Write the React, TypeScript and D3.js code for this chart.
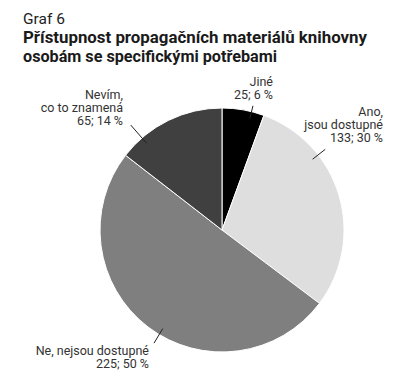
import React from "react";
import * as d3 from "d3";

// data
const categories = ["Jiné", "Ano, jsou dostupné", "Ne, nejsou dostupné", "Nevím, co to znamená"];
const counts = [25, 133, 225, 65];
const percents = [6, 30, 50, 14];
const sliceColors = ["#000000", "#dedede", "#7f7f7f", "#404040"];
const labelLines = [["Jiné"], ["Ano,", "jsou dostupné"], ["Ne, nejsou dostupné"], ["Nevím,", "co to znamená"]];

const subtitle = "Graf 6";
const titleLines = ["Přístupnost propagačních materiálů knihovny", "osobám se specifickými potřebami"];

// label layout: leader angle (deg), leader outer radius, text anchor x, first baseline
const labelLayout = [
  { angle: 14, outer: 128, x: 273, y: 86 },
  { angle: 52, outer: 131, x: 383, y: 116 },
  { angle: 211, outer: 132, x: 149, y: 355 },
  { angle: 319, outer: 139, x: 123, y: 99 },
];

export default function App() {
  const width = 400;
  const height = 386;
  const cx = 222;
  const cy = 230;
  const radius = 122;
  const lineH = 13;

  const pie = d3.pie<number>().sort(null).value(d => d);
  const arcs = pie(counts);
  const arc = d3.arc<d3.PieArcDatum<number>>().innerRadius(0).outerRadius(radius);

  const polar = (deg: number, r: number) => {
    const a = (deg * Math.PI) / 180;
    return [cx + r * Math.sin(a), cy - r * Math.cos(a)];
  };

  return (
    <div style={{ position: "absolute", left: 0, top: 0 }}>
      <svg width={width} height={height} style={{ display: "block", background: "#fff" }} fontFamily="Roboto, sans-serif">
        <text x={23} y={24} fontSize={15.5} fill="#222">{subtitle}</text>
        <text x={23} y={43} fontSize={16} fontWeight="bold" fill="#1a1a1a" textLength={344} lengthAdjust="spacingAndGlyphs">{titleLines[0]}</text>
        <text x={23} y={62} fontSize={16} fontWeight="bold" fill="#1a1a1a" textLength={254} lengthAdjust="spacingAndGlyphs">{titleLines[1]}</text>

        <g transform={`translate(${cx},${cy})`}>
          {arcs.map((a, i) => (
            <path key={categories[i]} d={arc(a) || ""} fill={sliceColors[i]} stroke="#fff" strokeWidth={1} />
          ))}
        </g>

        {arcs.map((a, i) => {
          const l = labelLayout[i];
          const [x1, y1] = polar(l.angle, radius - 7);
          const [x2, y2] = polar(l.angle, l.outer);
          const lines = [...labelLines[i], `${counts[i]}; ${percents[i]} %`];
          return (
            <g key={categories[i]}>
              <line x1={x1} y1={y1} x2={x2} y2={y2} stroke="#222" strokeWidth={1} />
              <text textAnchor="end" fontSize={12.5} fill="#333">
                {lines.map((t, j) => (
                  <tspan key={j} x={l.x} y={l.y + j * lineH}>{t}</tspan>
                ))}
              </text>
            </g>
          );
        })}
      </svg>
    </div>
  );
}
